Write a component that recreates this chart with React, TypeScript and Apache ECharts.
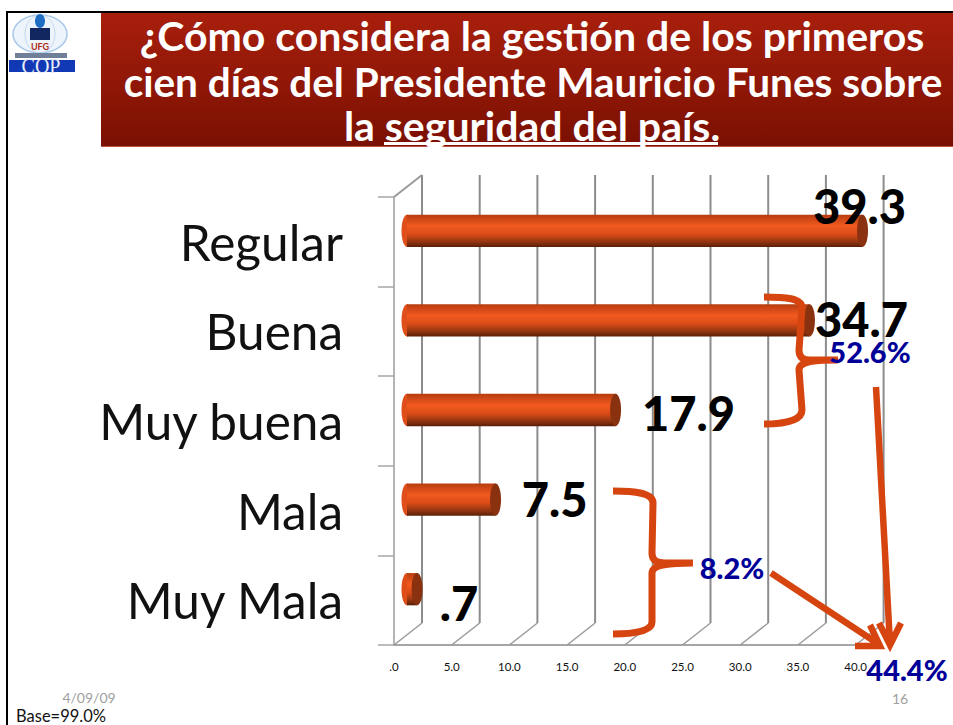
import React, { useEffect, useRef } from "react";
import * as echarts from "echarts";

const categories = ["Regular", "Buena", "Muy buena", "Mala", "Muy Mala"];
const values = [39.3, 34.7, 17.9, 7.5, 0.7];
const valueLabels = ["39.3", "34.7", "17.9", "7.5", ".7"];
const labelOffsets = [
  [12, -36],
  [67, -12],
  [88, -8],
  [74, -12],
  [57, 3],
];
const xTicks = [0, 5, 10, 15, 20, 25, 30, 35, 40];
const titleLines = [
  "¿Cómo considera la gestión de los primeros",
  "cien días del Presidente Mauricio Funes sobre",
  "la seguridad del país.",
];

const ORANGE = "#d6450f";
const BLUE = "#000099";
const DEPTH_X = 28;
const DEPTH_Y = -22;

const brace1 =
  "M764 297 C785 297 802 298 802 308 L799 350 C799 358 804 360 810 360 L838 360 C820 360 799 360 799 370 L802 410 C802 420 785 424 764 424";
const brace2 =
  "M613 491 C635 491 653 493 653 503 L652 553 C652 561 657 563 665 563 L693 563 C672 563 652 564 652 573 L652 622 C652 631 635 634 613 634";
const arrow1 = "M876 387 L890 644 M879 623 L890 645 L901 623";
const arrow2 = "M771 573 L880 645 M870 625 L880 646 L855 646";

echarts.graphic.registerShape("brace1", echarts.graphic.extendPath(brace1, {}));
echarts.graphic.registerShape("brace2", echarts.graphic.extendPath(brace2, {}));
echarts.graphic.registerShape("arrow1", echarts.graphic.extendPath(arrow1, {}));
echarts.graphic.registerShape("arrow2", echarts.graphic.extendPath(arrow2, {}));

const barGradient = {
  type: "linear",
  x: 0,
  y: 0,
  x2: 0,
  y2: 1,
  colorStops: [
    { offset: 0, color: "#b83c10" },
    { offset: 0.35, color: "#f25a20" },
    { offset: 0.6, color: "#dc4c18" },
    { offset: 0.85, color: "#8f3410" },
    { offset: 1, color: "#5a2008" },
  ],
};

function text(x: number, y: number, t: string, size: number, fill: string, weight: any = 400, align = "center", extra: any = {}) {
  return {
    type: "text",
    x,
    y,
    z: 100,
    style: {
      text: t,
      fontFamily: "Lato",
      fontSize: size,
      fontWeight: weight,
      fill,
      textAlign: align,
      textVerticalAlign: "middle",
      ...extra,
    },
  };
}

const titleShadow = { shadowColor: "#777", shadowOffsetX: 1, shadowOffsetY: 2, shadowBlur: 1 };

export default function App() {
  const ref = useRef<HTMLDivElement>(null);
  useEffect(() => {
    const chart = echarts.init(ref.current!, null, { renderer: "svg" });
    chart.setOption({
      animation: false,
      backgroundColor: "#ffffff",
      grid: { left: 394, top: 197, width: 461.6, height: 448, containLabel: false },
      xAxis: {
        type: "value",
        min: 0,
        max: 40,
        interval: 5,
        splitLine: { show: false },
        axisTick: { show: false },
        axisLine: { show: true, lineStyle: { color: "#a6a6a6", width: 2 } },
        axisLabel: {
          margin: 15,
          fontFamily: "Lato",
          fontSize: 11.5,
          color: "#111",
          formatter: (v: number) => (v === 0 ? ".0" : v.toFixed(1)),
        },
      },
      yAxis: {
        type: "category",
        inverse: true,
        data: categories,
        axisLine: { show: true, onZero: false, lineStyle: { color: "#b5b5b5", width: 2 } },
        axisTick: { show: true, length: 16, lineStyle: { color: "#a6a6a6", width: 1.5 } },
        axisLabel: { margin: 51, fontFamily: "Lato", fontSize: 49.5, color: "#111", verticalAlign: "middle" },
      },
      series: [
        {
          type: "custom",
          name: "frame",
          coordinateSystem: "cartesian2d",
          z: 1,
          clip: false,
          silent: true,
          encode: { x: 0 },
          data: xTicks.map((t) => [t]),
          renderItem: (_p: any, api: any) => {
            const top = api.coord([api.value(0), 0]);
            const x = top[0];
            const bottomY = 645;
            const topY = 197;
            const children: any[] = [
              {
                type: "line",
                shape: { x1: x + DEPTH_X, y1: topY + DEPTH_Y, x2: x + DEPTH_X, y2: bottomY + DEPTH_Y },
                style: { stroke: "#8c8c8c", lineWidth: 2 },
              },
              {
                type: "line",
                shape: { x1: x, y1: bottomY, x2: x + DEPTH_X, y2: bottomY + DEPTH_Y },
                style: { stroke: "#9a9a9a", lineWidth: 1.5 },
              },
            ];
            if (api.value(0) === 0) {
              children.push({
                type: "line",
                shape: { x1: x, y1: topY, x2: x + DEPTH_X, y2: topY + DEPTH_Y },
                style: { stroke: "#9a9a9a", lineWidth: 2 },
              });
            }
            return { type: "group", children };
          },
        },
        {
          type: "custom",
          name: "bars",
          coordinateSystem: "cartesian2d",
          z: 5,
          clip: false,
          encode: { x: 0, y: 1 },
          data: values.map((v, i) => [v, i]),
          renderItem: (_p: any, api: any) => {
            const v = api.value(0);
            const i = api.value(1);
            const end = api.coord([v, i]);
            const start = api.coord([0, i]);
            const h = api.size([0, 1])[1] * 0.36;
            const cy = end[1] + DEPTH_Y / 2;
            const x0 = start[0] + DEPTH_X / 2 - 1;
            const x1 = end[0] + DEPTH_X / 2 + 1;
            const rx = 5.5;
            const ry = h / 2;
            return {
              type: "group",
              children: [
                { type: "ellipse", shape: { cx: x0, cy, rx, ry }, style: { fill: "#e04e1a" } },
                { type: "rect", shape: { x: x0, y: cy - ry, width: x1 - x0, height: h }, style: { fill: barGradient } },
                { type: "ellipse", shape: { cx: x1, cy, rx, ry }, style: { fill: "#8a3210" } },
                {
                  type: "text",
                  x: end[0] + labelOffsets[i][0],
                  y: end[1] + labelOffsets[i][1],
                  z2: 50,
                  style: {
                    text: valueLabels[i],
                    fontFamily: "Lato",
                    fontSize: 47,
                    fontWeight: 900,
                    fill: "#000",
                    textAlign: "center",
                    textVerticalAlign: "middle",
                  },
                },
              ],
            };
          },
        },
      ],
      graphic: [
        { type: "rect", z: 90, shape: { x: 6, y: 11, width: 947, height: 2 }, style: { fill: "#000" } },
        { type: "rect", z: 90, shape: { x: 6, y: 11, width: 2, height: 714 }, style: { fill: "#000" } },
        {
          type: "rect",
          z: 90,
          shape: { x: 101, y: 13, width: 852, height: 134 },
          style: {
            fill: {
              type: "linear",
              x: 0,
              y: 0,
              x2: 0,
              y2: 1,
              colorStops: [
                { offset: 0, color: "#a81f0c" },
                { offset: 1, color: "#7a1002" },
              ],
            },
          },
        },
        { type: "rect", z: 91, shape: { x: 101, y: 146, width: 852, height: 1 }, style: { fill: "#c0503f" } },
        text(532, 35, titleLines[0], 41, "#fff", 700, "center", titleShadow),
        text(533, 81, titleLines[1], 40.5, "#fff", 700, "center", titleShadow),
        text(532, 125, titleLines[2], 41, "#fff", 700, "center", titleShadow),
        { type: "rect", z: 100, shape: { x: 384, y: 142, width: 334, height: 3 }, style: { fill: "#fff" } },
        // logo
        { type: "ellipse", z: 90, shape: { cx: 40, cy: 34, rx: 27, ry: 19 }, style: { fill: "#eef4fb", stroke: "#a9c9e8", lineWidth: 1.5 } },
        { type: "ellipse", z: 90, shape: { cx: 40, cy: 34, rx: 15, ry: 19 }, style: { fill: "none", stroke: "#c3d8ee", lineWidth: 1 } },
        { type: "rect", z: 91, shape: { x: 30, y: 28, width: 20, height: 12 }, style: { fill: "#12275f" } },
        { type: "ellipse", z: 91, shape: { cx: 40, cy: 21, rx: 5, ry: 7 }, style: { fill: "#1f6ec4" } },
        text(40, 46, "UFG", 9, "#b02a18", 700),
        { type: "rect", z: 91, shape: { x: 15, y: 53, width: 52, height: 5 }, style: { fill: "#6f7f9a" } },
        { type: "rect", z: 91, shape: { x: 9, y: 60, width: 66, height: 12 }, style: { fill: "#1138b5" } },
        text(41, 66, "COP", 20, "#e8eef8", 400, "center", { fontFamily: "Liberation Serif" }),
        // annotations
        { type: "brace1", z: 95, style: { fill: "none", stroke: ORANGE, lineWidth: 7 } },
        { type: "brace2", z: 95, style: { fill: "none", stroke: ORANGE, lineWidth: 7 } },
        { type: "arrow1", z: 95, style: { fill: "none", stroke: ORANGE, lineWidth: 6.5 } },
        { type: "arrow2", z: 95, style: { fill: "none", stroke: ORANGE, lineWidth: 6.5 } },
        text(870, 351, "52.6%", 29, BLUE, 900),
        text(732, 567, "8.2%", 29, BLUE, 900),
        text(907, 669, "44.4%", 29, BLUE, 900),
        text(89, 697, "4/09/09", 14, "#a0a0a0"),
        text(900, 698, "16", 14, "#a0a0a0"),
        text(16, 716, "Base=99.0%", 16.5, "#111", 400, "left"),
      ],
    });
    return () => chart.dispose();
  }, []);
  return <div ref={ref} style={{ position: "absolute", left: 0, top: 0, width: 953, height: 725 }} />;
}
